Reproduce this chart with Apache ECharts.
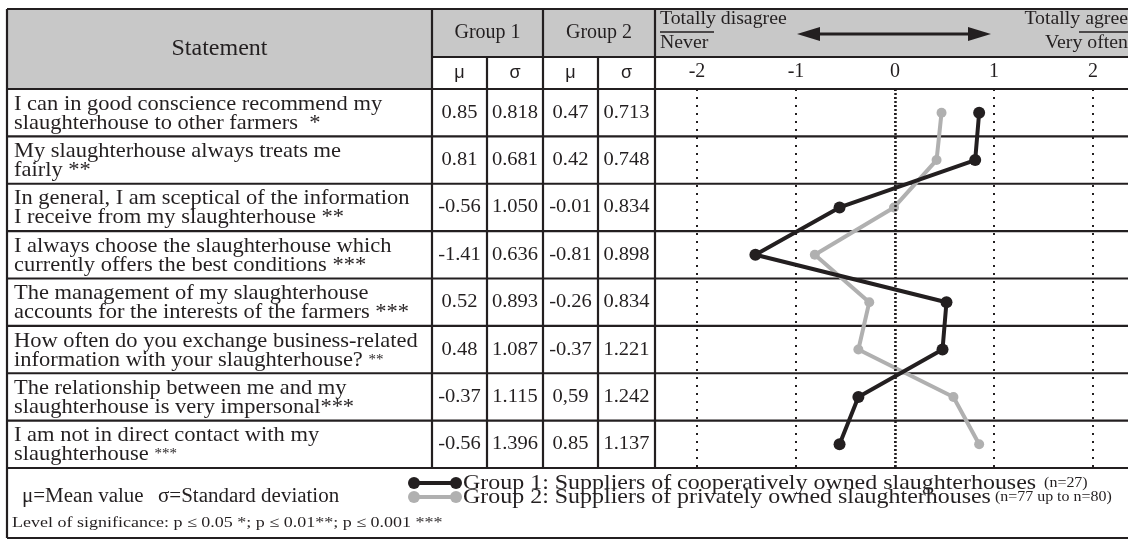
<!DOCTYPE html>
<html><head><meta charset="utf-8">
<script src="https://cdn.jsdelivr.net/npm/echarts@6/dist/echarts.min.js"></script>
<style>html,body{margin:0;padding:0;background:#fff}#c{width:1128px;height:541px}</style>
</head><body><div id="c"></div>
<script>
// ---------- data ----------
const statements = [
  ['I can in good conscience recommend my', 'slaughterhouse to other farmers  '],
  ['My slaughterhouse always treats me', 'fairly '],
  ['In general, I am sceptical of the information', 'I receive from my slaughterhouse '],
  ['I always choose the slaughterhouse which', 'currently offers the best conditions '],
  ['The management of my slaughterhouse', 'accounts for the interests of the farmers '],
  ['How often do you exchange business-related', 'information with your slaughterhouse? '],
  ['The relationship between me and my', 'slaughterhouse is very impersonal'],
  ['I am not in direct contact with my', 'slaughterhouse ']
];
const stars = ['*', '**', '**', '***', '***', '**', '***', '***'];
const smallStars = [false, false, false, false, false, true, false, true];
const g1MeanText = ['0.85', '0.81', '-0.56', '-1.41', '0.52', '0.48', '-0.37', '-0.56'];
const g1SdText   = ['0.818', '0.681', '1.050', '0.636', '0.893', '1.087', '1.115', '1.396'];
const g2MeanText = ['0.47', '0.42', '-0.01', '-0.81', '-0.26', '-0.37', '0,59', '0.85'];
const g2SdText   = ['0.713', '0.748', '0.834', '0.898', '0.834', '1.221', '1.242', '1.137'];
const tickLabels = ['-2', '-1', '0', '1', '2'];
const legendNames = ['Group 1: Suppliers of cooperatively owned slaughterhouses', 'Group 2: Suppliers of privately owned slaughterhouses'];
const legendN = ['(n=27)', '(n=77 up to n=80)'];

const toNum = s => parseFloat(s.replace(',', '.'));
const g1Mean = g1MeanText.map(toNum);
const g2Mean = g2MeanText.map(toNum);

// ---------- layout ----------
const W = 1128, H = 541;
const L = 7, XS = 432, XG1m = 487, XG1 = 543, XG2m = 598, XC = 655, R = 1128;
const T = 9, YH1 = 57, YH2 = 89, YB = 468, BOT = 538;
const rowH = (YB - YH2) / 8;
const INK = '#231f20', FILL = '#c8c8c8', GREY = '#b0b0b0';
const SERIF = '"Liberation Serif", "Times New Roman", serif';
const SANS = '"Liberation Sans", Arial, sans-serif';

const g = [];
function line(x1, y1, x2, y2, w) {
  g.push({ type: 'line', z: 1, silent: true, shape: { x1, y1, x2, y2 }, style: { stroke: INK, lineWidth: w || 2.2 } });
}
function rect(x, y, w, h, c) {
  g.push({ type: 'rect', z: 0, silent: true, shape: { x, y, width: w, height: h }, style: { fill: c } });
}
function text(x, y, t, o) {
  o = o || {};
  g.push({ type: 'text', z: 3, silent: true, x, y, scaleX: o.sx || 1, style: {
    text: t, fill: INK, font: (o.size || 18) + 'px ' + (o.family || SERIF),
    textAlign: o.align || 'left', textVerticalAlign: 'middle'
  } });
}

// fills
rect(L, T, XS - L, YH2 - T, FILL);
rect(XS, T, XC - XS, YH1 - T, FILL);
rect(XC, T, R - XC, YH1 - T, FILL);

// horizontal lines
line(L, T, R, T);
line(XS, YH1, R, YH1);
line(L, YH2, R, YH2);
for (let i = 1; i < 8; i++) line(L, YH2 + i * rowH, R, YH2 + i * rowH);
line(L, YB, R, YB);
line(L, BOT, R, BOT);
// vertical lines
line(L, T, L, BOT);
line(XS, T, XS, YB);
line(XG1m, YH1, XG1m, YB);
line(XG1, T, XG1, YB);
line(XG2m, YH1, XG2m, YB);
line(XC, T, XC, YB);

// header texts
text((L + XS) / 2, (T + YH2) / 2, 'Statement', { size: 24, align: 'center' });
text((XS + XG1) / 2, (T + YH1) / 2, 'Group 1', { size: 20, align: 'center' });
text((XG1 + XC) / 2, (T + YH1) / 2, 'Group 2', { size: 20, align: 'center' });
const mu = (YH1 + YH2) / 2;
text((XS + XG1m) / 2, mu, 'μ', { size: 18, align: 'center', family: SANS });
text((XG1m + XG1) / 2, mu, 'σ', { size: 18, align: 'center', family: SANS });
text((XG1 + XG2m) / 2, mu, 'μ', { size: 18, align: 'center', family: SANS });
text((XG2m + XC) / 2, mu, 'σ', { size: 18, align: 'center', family: SANS });

// scale header
text(660, 19, 'Totally disagree', { size: 18, sx: 1.1 });
line(660, 32, 714, 32, 1.5);
text(660, 43, 'Never', { size: 18, sx: 1.1 });
text(1128, 19, 'Totally agree', { size: 18, align: 'right', sx: 1.1 });
line(1079, 32, 1128, 32, 1.5);
text(1128, 43, 'Very often', { size: 18, align: 'right', sx: 1.1 });
g.push({ type: 'line', z: 1, silent: true, shape: { x1: 810, y1: 34, x2: 975, y2: 34 }, style: { stroke: INK, lineWidth: 3 } });
g.push({ type: 'polygon', z: 1, silent: true, shape: { points: [[797, 34], [820, 27], [820, 41]] }, style: { fill: INK } });
g.push({ type: 'polygon', z: 1, silent: true, shape: { points: [[991, 34], [968, 27], [968, 41]] }, style: { fill: INK } });

// rows
for (let i = 0; i < 8; i++) {
  const cy = YH2 + (i + 0.5) * rowH;
  const st = smallStars[i] ? '{s|' + stars[i] + '}' : '{n|' + stars[i] + '}';
  g.push({ type: 'text', z: 3, silent: true, x: 14, y: cy + 1, scaleX: 1.07, style: {
    text: '{n|' + statements[i][0] + '}\n{n|' + statements[i][1] + '}' + st,
    textVerticalAlign: 'middle', fill: INK,
    rich: {
      n: { fontFamily: SERIF, fontSize: 21, lineHeight: 19, fill: INK },
      s: { fontFamily: SERIF, fontSize: 14, lineHeight: 19, fill: INK }
    }
  } });
  text((XS + XG1m) / 2, cy, g1MeanText[i], { size: 19, align: 'center', sx: 1.08 });
  text((XG1m + XG1) / 2, cy, g1SdText[i], { size: 19, align: 'center', sx: 1.08 });
  text((XG1 + XG2m) / 2, cy, g2MeanText[i], { size: 19, align: 'center', sx: 1.08 });
  text((XG2m + XC) / 2, cy, g2SdText[i], { size: 19, align: 'center', sx: 1.08 });
}

// footer
text(22, 497, 'μ=Mean value', { size: 20, sx: 1.05 });
text(158, 497, 'σ=Standard deviation', { size: 20, sx: 1.05 });
text(12, 523, 'Level of significance: p ≤ 0.05 *; p ≤ 0.01**; p ≤ 0.001 ***', { size: 15, sx: 1.2 });
const legColors = [INK, GREY];
const legY = [483, 497];
const legGap = ['  ', ' '];
for (let k = 0; k < 2; k++) {
  g.push({ type: 'line', z: 2, silent: true, shape: { x1: 414, y1: legY[k], x2: 456, y2: legY[k] }, style: { stroke: legColors[k], lineWidth: 4 } });
  g.push({ type: 'circle', z: 2, silent: true, shape: { cx: 414, cy: legY[k], r: 6 }, style: { fill: legColors[k] } });
  g.push({ type: 'circle', z: 2, silent: true, shape: { cx: 456, cy: legY[k], r: 6 }, style: { fill: legColors[k] } });
  g.push({ type: 'text', z: 3, silent: true, x: 463, y: legY[k], scaleX: 1.14, style: {
    text: '{a|' + legendNames[k] + '}{b|' + legGap[k] + legendN[k] + '}',
    textVerticalAlign: 'middle',
    rich: { a: { fontFamily: SERIF, fontSize: 21, fill: INK }, b: { fontFamily: SERIF, fontSize: 14, fill: INK } }
  } });
}

const chart = echarts.init(document.getElementById('c'), null, { renderer: 'canvas' });
chart.setOption({
  animation: false,
  backgroundColor: '#fff',
  grid: { left: 697, right: W - 1093, top: YH2, bottom: H - YB },
  xAxis: {
    type: 'value', min: -2, max: 2, interval: 1, position: 'top',
    axisLine: { show: false }, axisTick: { show: false },
    axisLabel: { margin: 7, fontFamily: SERIF, fontSize: 20, color: INK, formatter: v => tickLabels[Math.round(v) + 2] },
    splitLine: { show: true, lineStyle: { color: INK, width: 2, type: [2, 6] } }
  },
  yAxis: { type: 'category', inverse: true, show: false, data: statements.map((s, i) => 'S' + (i + 1)) },
  series: [
    {
      name: 'Group 2', type: 'line', z: 4, data: g2Mean.map((v, i) => [v, i]),
      symbol: 'circle', symbolSize: 10, lineStyle: { color: GREY, width: 4 }, itemStyle: { color: GREY },
      markLine: { silent: true, symbol: 'none', label: { show: false },
        lineStyle: { color: INK, width: 2.5, type: [2, 2] }, data: [{ xAxis: 0 }] }
    },
    {
      name: 'Group 1', type: 'line', z: 5, data: g1Mean.map((v, i) => [v, i]),
      symbol: 'circle', symbolSize: 12, lineStyle: { color: INK, width: 4 }, itemStyle: { color: INK }
    }
  ],
  graphic: { elements: g }
});
</script></body></html>
